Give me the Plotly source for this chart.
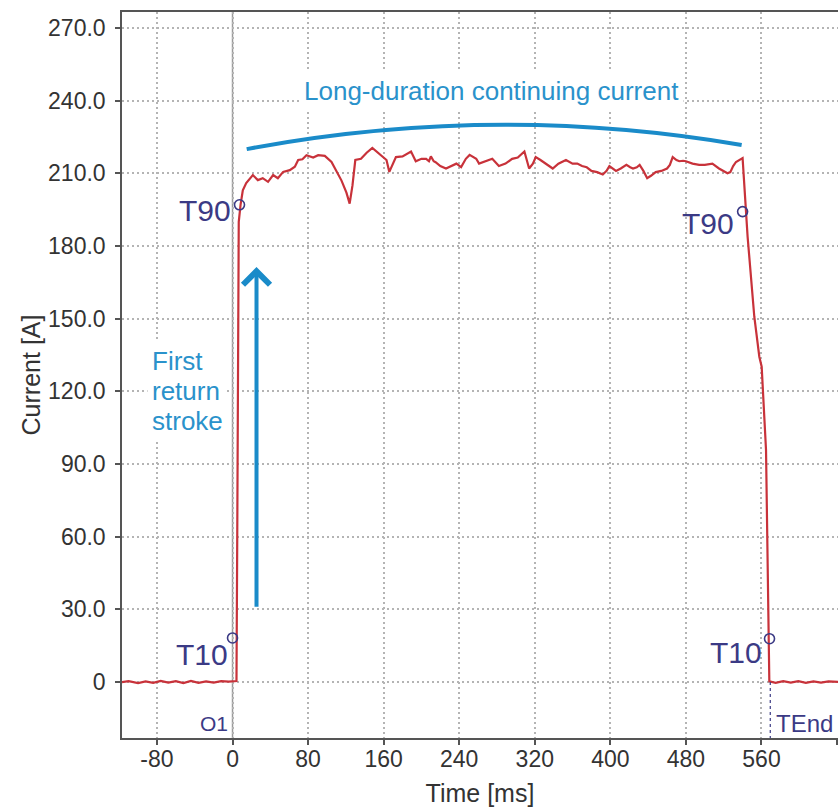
import plotly.graph_objects as go

# ---------------- data ----------------
time_ms = [-117, -110, -100, -92, -84, -76, -68, -60, -52, -44, -36, -28, -20, -12, -4, 2, 4.2,
           5, 5.8, 6.6, 8.5, 10.9, 14.5, 18, 21.5, 26.8, 32,
           37.6, 43, 48, 53.6, 60.6, 66, 69.5, 74, 78.3, 85.4,
           90.7, 97.7, 104.8, 110, 115.4, 120.6, 124, 127, 130, 136,
           142, 148, 155, 160, 163, 166, 170, 173, 180, 189,
           194, 200, 205, 208, 210, 213, 215, 220, 226, 231,
           237, 242, 247, 251, 258, 261, 268, 275, 282, 289,
           296, 302, 309, 314, 318, 321, 326, 331, 335, 339,
           345, 353, 360, 365, 370, 375, 380, 386, 392, 396,
           399, 403, 406, 411, 417, 421, 424, 428, 431, 435,
           439, 443, 448, 454, 460, 463, 466, 470, 473, 477,
           480, 487, 494, 500, 508, 515, 520, 524, 527, 530,
           533, 537, 540,
           545.3, 552.4, 557.7, 560.2, 564.8, 568.3, 575, 583, 591, 599, 607, 615, 623, 631, 641]

current_a = [0.0, 0.4, -0.4, 0.3, -0.3, 0.5, -0.2, 0.4, -0.4, 0.5, -0.3, 0.3, -0.2, 0.4, 0.2, 0.5, 0.4,
             60, 150, 190, 197, 203, 206, 207.5, 209.3, 207.2, 208,
             206.5, 209.3, 208, 210.6, 211.3, 212.7, 215.5, 215.8, 217.5, 216.5,
             217.5, 217.2, 214.7, 210.6, 207, 202, 197.5, 205, 215.5, 216,
             218.5, 220.5, 218, 216.5, 215.5, 210.6, 214, 216.7, 217, 219,
             215, 216, 216, 215, 217, 215, 214.6, 213, 212, 213,
             214, 212.6, 216, 217.6, 216, 214, 215, 216, 213, 214,
             216, 216.5, 219, 212, 214, 216.7, 215.5, 214, 213, 212,
             214, 215.5, 214, 214, 213, 212.5, 211, 210.5, 209.5, 211,
             213, 212, 211, 212, 213.5, 212.5, 212, 212.5, 213.5, 211,
             208, 209, 210.5, 211, 212, 213.5, 216.7, 215.5, 215, 215.2,
             215, 214, 213.5, 213.5, 214, 212, 211, 210, 210.5, 213,
             214.7, 215.5, 216.3,
             183.9, 150.8, 134.3, 130.2, 95.8, 0.3, -0.3, 0.4, -0.2, 0.4, -0.3, 0.3, -0.2, 0.3, 0.1]

# T90 / T10 markers
marker_t = [7.4, 0.0, 540.0, 568.5]
marker_v = [197.0, 18.2, 194.2, 17.9]
marker_labels = ["T90", "T10", "T90", "T10"]
label_t = [0.0, -3.0, 533.0, 562.5]
label_v = [194.7, 11.4, 189.3, 12.2]

x_ticks = [-80, 0, 80, 160, 240, 320, 400, 480, 560, 640]
x_ticktext = ["-80", "0", "80", "160", "240", "320", "400", "480", "560", ""]
y_ticks = [0, 30, 60, 90, 120, 150, 180, 210, 240, 270]
y_ticktext = ["0", "30.0", "60.0", "90.0", "120.0", "150.0", "180.0", "210.0", "240.0", "270.0"]

X_RANGE = [-117, 641]
Y_RANGE = [-23.1, 276.6]

# continuing-current arc (start, control, end) and first-stroke arrow
arc_t = [15, 277, 539]
arc_v = [220.0, 239.2, 221.7]
arrow_t = 25.4
arrow_v = [30.5, 171.3]
o1_t = 0.0
tend_t = 569.3

RED = "#c8323a"
NAVY = "#3b3a85"
BLUE_TXT = "#2a92cb"
BLUE = "#1a8bc9"
FONT = "Liberation Sans, Arial, sans-serif"

fig = go.Figure()

fig.add_trace(go.Scatter(x=time_ms, y=current_a, mode="lines",
                         line=dict(color=RED, width=2.2), hoverinfo="skip"))
fig.add_trace(go.Scatter(x=marker_t, y=marker_v, mode="markers",
                         marker=dict(symbol="circle-open", size=10, color=NAVY,
                                     line=dict(width=1.6, color=NAVY)),
                         hoverinfo="skip"))

shapes = [
    dict(type="line", xref="x", yref="paper", x0=o1_t, x1=o1_t, y0=0, y1=1,
         line=dict(color="#9a9a9a", width=1.5), layer="below"),
    dict(type="line", xref="x", yref="y", x0=tend_t, x1=tend_t, y0=0, y1=Y_RANGE[0],
         line=dict(color=NAVY, width=1.2, dash="dot"), layer="above"),
    dict(type="path", xref="x", yref="y",
         path=f"M {arc_t[0]},{arc_v[0]} Q {arc_t[1]},{arc_v[1]} {arc_t[2]},{arc_v[2]}",
         line=dict(color=BLUE, width=4)),
]

annotations = []
for lt, lv, lab in zip(label_t, label_v, marker_labels):
    annotations.append(dict(x=lt, y=lv, xref="x", yref="y", text=lab, showarrow=False,
                            xanchor="right", yanchor="middle",
                            font=dict(size=30, color=NAVY, family=FONT)))
annotations.append(dict(x=-3, y=-17, xref="x", yref="y", text="O1", showarrow=False,
                        xanchor="right", yanchor="middle",
                        font=dict(size=21, color=NAVY, family=FONT)))
annotations.append(dict(x=573, y=-17, xref="x", yref="y", text="TEnd", showarrow=False,
                        xanchor="left", yanchor="middle",
                        font=dict(size=24, color=NAVY, family=FONT)))
annotations.append(dict(x=274, y=244, xref="x", yref="y", text="Long-duration continuing current",
                        showarrow=False, xanchor="center", yanchor="middle",
                        bgcolor="white", borderpad=4,
                        font=dict(size=26, color=BLUE_TXT, family=FONT)))
for txt, yv in zip(["stroke", "return", "First"], [107.7, 120.1, 132.5]):
    annotations.append(dict(x=-90.6, y=yv, xref="x", yref="y", text=txt, showarrow=False,
                            xanchor="left", yanchor="middle", bgcolor="white", borderpad=4,
                            font=dict(size=26, color=BLUE_TXT, family=FONT)))
annotations.append(dict(x=arrow_t, y=arrow_v[1], ax=arrow_t, ay=arrow_v[0],
                        xref="x", yref="y", axref="x", ayref="y", text="",
                        showarrow=True, arrowhead=4, arrowsize=1.3, arrowwidth=4,
                        arrowcolor=BLUE))

fig.update_layout(
    width=838, height=807,
    margin=dict(l=122, r=0, t=12, b=69),
    plot_bgcolor="white", paper_bgcolor="white",
    showlegend=False,
    font=dict(family=FONT, color="#333333"),
    shapes=shapes, annotations=annotations,
)
axis_common = dict(showline=True, linecolor="#555555", linewidth=1.5,
                   ticks="outside", ticklen=5, tickwidth=1.5, tickcolor="#555555",
                   showgrid=True, gridcolor="#b4b4b4", gridwidth=1.5, griddash="2px,3px",
                   zeroline=False, tickfont=dict(size=23, color="#333333", family=FONT))
fig.update_xaxes(range=X_RANGE, tickvals=x_ticks, ticktext=x_ticktext, mirror=True,
                 title=dict(text="Time [ms]", font=dict(size=25, color="#333333", family=FONT),
                            standoff=16),
                 ticklabelstandoff=-5, **axis_common)
fig.update_yaxes(range=Y_RANGE, tickvals=y_ticks, ticktext=y_ticktext,
                 title=dict(text="Current [A]", font=dict(size=25, color="#333333", family=FONT),
                            standoff=0),
                 ticklabelstandoff=5, **axis_common)

fig.write_html("out.html")
